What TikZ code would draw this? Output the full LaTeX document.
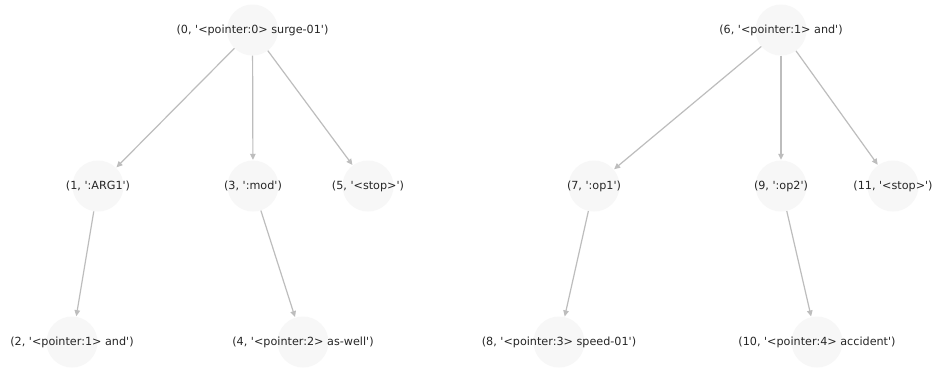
\documentclass[tikz,border=0pt]{standalone}
\usepackage{fontspec}
\setmainfont{DejaVu Sans}
\usetikzlibrary{arrows.meta}
\definecolor{nodefill}{HTML}{F7F7F7}
\definecolor{edgecol}{HTML}{BDBDBD}
\definecolor{txtcol}{HTML}{262626}
\newcommand{\myq}{\textquotesingle}
\tikzset{
  vert/.style={circle, minimum size=51pt, inner sep=0pt, fill=nodefill, draw=none},
  vlabel/.style={inner sep=0pt, text=txtcol, font=\fontsize{11.2}{13}\selectfont},
  edge/.style={draw=edgecol, line width=1.2pt, -{Triangle[length=6pt,width=5.5pt]}, shorten >=0.5pt}
}
\begin{document}
\begin{tikzpicture}[x=1pt,y=-1pt]
\useasboundingbox (0,0) rectangle (935,368);
\fill[white] (0,0) rectangle (935,368);
% circles
\node[vert] (n0) at (252.5,30) {};
\node[vert] (n1) at (98,186) {};
\node[vert] (n2) at (72,342) {};
\node[vert] (n3) at (253,186) {};
\node[vert] (n4) at (303,342) {};
\node[vert] (n5) at (368,186) {};
\node[vert] (n6) at (781,30) {};
\node[vert] (n7) at (594,186) {};
\node[vert] (n8) at (559,342) {};
\node[vert] (n9) at (781,186) {};
\node[vert] (n10) at (817,342) {};
\node[vert] (n11) at (893,186) {};
% edges
\draw[edge] (n0) -- (n1);
\draw[edge] (n0) -- (n3);
\draw[edge] (n0) -- (n5);
\draw[edge] (n1) -- (n2);
\draw[edge] (n3) -- (n4);
\draw[edge] (n6) -- (n7);
\draw[edge] (n6) -- (n9);
\draw[edge] (n6) -- (n11);
\draw[edge] (n7) -- (n8);
\draw[edge] (n9) -- (n10);
% labels
\node[vlabel] (t0) at (n0) {(0, \myq<pointer:0> surge-01\myq)};
\node[vlabel] (t1) at (n1) {(1, \myq:ARG1\myq)};
\node[vlabel] (t2) at (n2) {(2, \myq<pointer:1> and\myq)};
\node[vlabel] (t3) at (n3) {(3, \myq:mod\myq)};
\node[vlabel] (t4) at (n4) {(4, \myq<pointer:2> as-well\myq)};
\node[vlabel] (t5) at (n5) {(5, \myq<stop>\myq)};
\node[vlabel] (t6) at (n6) {(6, \myq<pointer:1> and\myq)};
\node[vlabel] (t7) at (n7) {(7, \myq:op1\myq)};
\node[vlabel] (t8) at (n8) {(8, \myq<pointer:3> speed-01\myq)};
\node[vlabel] (t9) at (n9) {(9, \myq:op2\myq)};
\node[vlabel] (t10) at (n10) {(10, \myq<pointer:4> accident\myq)};
\node[vlabel] (t11) at (n11) {(11, \myq<stop>\myq)};
\end{tikzpicture}
\end{document}
